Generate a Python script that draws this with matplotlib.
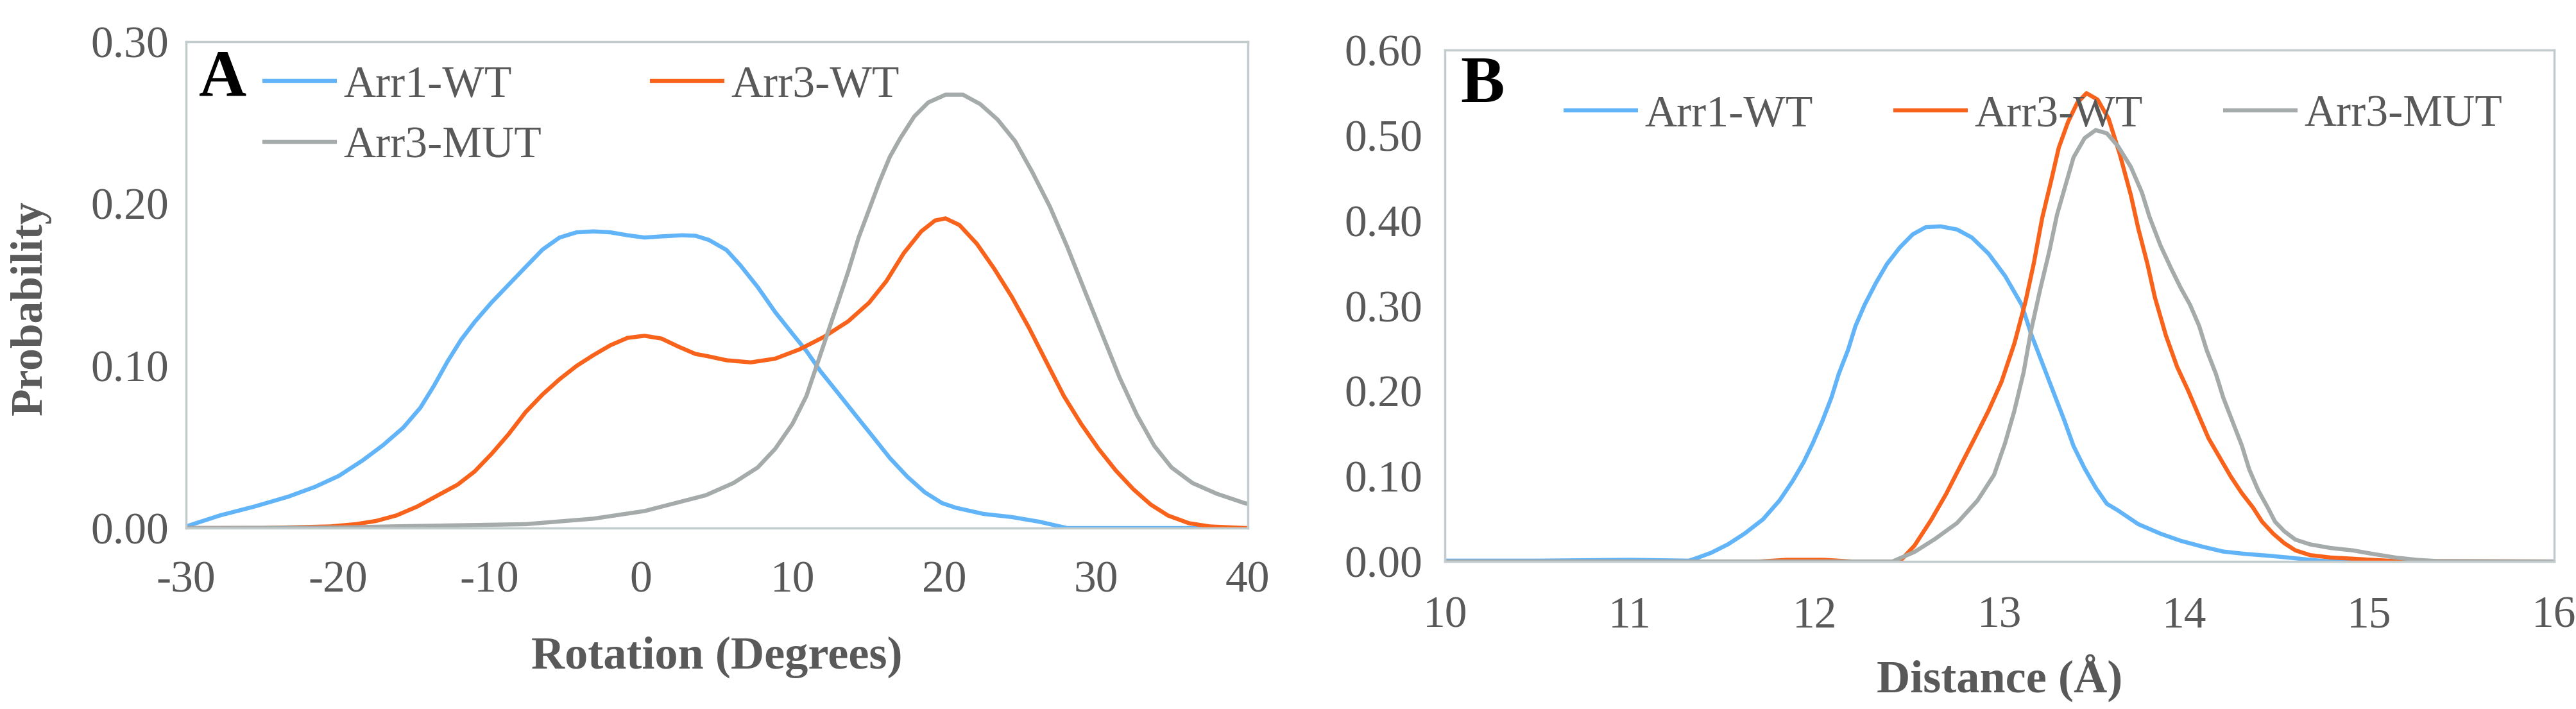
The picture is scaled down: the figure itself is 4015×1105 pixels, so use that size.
import matplotlib
matplotlib.use('Agg')
from matplotlib import pyplot as plt

#================================ data ================================
# Panel A : rotation (degrees) vs probability
rot_arr1 = [-30, -27.76, -25.52, -23.28, -21.5, -19.92, -18.36, -17.0, -15.67, -14.55, -13.65, -12.76,
            -11.86, -10.97, -9.85, -8.73, -7.61, -6.49, -5.37, -4.25, -3.13, -2.01, -0.89, 0.23, 1.35,
            2.69, 3.59, 4.48, 5.64, 6.56, 7.70, 8.85, 9.99, 10.91, 11.83, 12.98, 14.12, 15.27, 16.41,
            17.56, 18.71, 19.85, 20.77, 22.6, 24.44, 26.27, 28.1, 40]
prob_arr1 = [0.001, 0.0078, 0.0132, 0.0193, 0.0254, 0.0322, 0.0417, 0.0512, 0.062, 0.0742, 0.0878,
             0.1027, 0.1162, 0.1271, 0.1392, 0.1501, 0.161, 0.1718, 0.1792, 0.1824, 0.183, 0.1824,
             0.1806, 0.1792, 0.1799, 0.1806, 0.1803, 0.1777, 0.1715, 0.162, 0.1486, 0.1332, 0.1198,
             0.1092, 0.0968, 0.0834, 0.07, 0.0566, 0.0432, 0.0317, 0.0221, 0.0154, 0.0125, 0.0087,
             0.0068, 0.0039, 0.0, 0.0]

rot_arr3 = [-30, -25, -20.5, -18.8, -17.46, -16.12, -14.77, -13.43, -12.09, -10.97, -9.85, -8.73, -7.61,
            -6.49, -5.37, -4.25, -3.13, -2.01, -0.89, 0.23, 1.35, 2.47, 3.59, 4.4, 5.64, 7.24, 8.85,
            10.45, 12.06, 13.66, 15.04, 16.18, 17.33, 18.48, 19.39, 20.08, 21.0, 22.15, 23.29, 24.44,
            25.58, 26.73, 27.88, 29.02, 30.17, 31.31, 32.46, 33.61, 34.76, 36.13, 37.51, 39.8, 40]
prob_arr3 = [0.0, 0.0, 0.001, 0.0024, 0.0044, 0.0078, 0.0132, 0.02, 0.0268, 0.0349, 0.0458, 0.0579,
             0.0715, 0.0824, 0.0918, 0.1, 0.1067, 0.1128, 0.1173, 0.1186, 0.1169, 0.1119, 0.1074,
             0.106, 0.1035, 0.1022, 0.1045, 0.1102, 0.1179, 0.1275, 0.139, 0.1523, 0.1696, 0.183,
             0.1897, 0.191, 0.1869, 0.1753, 0.16, 0.1428, 0.1236, 0.1025, 0.0815, 0.0643, 0.0489,
             0.0355, 0.024, 0.0145, 0.0077, 0.003, 0.001, 0.0, 0.0]

rot_mut = [-30, -20, -16.57, -7.6, -3.13, 0.23, 2.47, 4.26, 6.1, 7.7, 8.85, 9.99, 10.91, 11.6, 12.29,
           12.98, 13.66, 14.35, 15.04, 15.73, 16.41, 17.1, 18.02, 18.94, 20.08, 21.23, 22.37, 23.52,
           24.67, 25.81, 26.96, 28.11, 29.25, 30.4, 31.55, 32.69, 33.84, 34.98, 36.36, 37.96, 39.8, 40]
prob_mut = [0.0, 0.0003, 0.001, 0.0024, 0.0058, 0.0105, 0.0159, 0.0202, 0.0278, 0.0374, 0.0489, 0.0643,
            0.0815, 0.1006, 0.1198, 0.139, 0.1581, 0.1792, 0.1964, 0.2137, 0.229, 0.2405, 0.2539,
            0.2625, 0.2673, 0.2673, 0.2615, 0.2519, 0.2386, 0.2194, 0.1983, 0.1734, 0.1466, 0.1198,
            0.093, 0.07, 0.0508, 0.0374, 0.0278, 0.0212, 0.0154, 0.015]

# Panel B : distance (angstrom) vs probability
dist_arr1 = [10, 10.5, 11.0, 11.32, 11.37, 11.44, 11.53, 11.62, 11.72, 11.81, 11.88, 11.94, 11.99,
             12.04, 12.09, 12.13, 12.18, 12.22, 12.27, 12.33, 12.39, 12.46, 12.53, 12.6, 12.68, 12.77,
             12.85, 12.94, 13.03, 13.12, 13.17, 13.23, 13.29, 13.35, 13.4, 13.46, 13.52, 13.58, 13.64,
             13.75, 13.87, 13.98, 14.1, 14.21, 14.33, 14.45, 14.56, 14.68, 14.79, 16]
dprob_arr1 = [0.001, 0.001, 0.002, 0.001, 0.0047, 0.0103, 0.0201, 0.0327, 0.0495, 0.0718, 0.0943,
              0.1166, 0.1391, 0.1642, 0.1922, 0.2203, 0.2482, 0.2762, 0.3014, 0.3266, 0.349, 0.3686,
              0.384, 0.3924, 0.3934, 0.3897, 0.3803, 0.3614, 0.3351, 0.3012, 0.2673, 0.2334, 0.1995,
              0.1657, 0.1355, 0.1092, 0.0866, 0.0678, 0.06, 0.0439, 0.0327, 0.0243, 0.0173, 0.0117,
              0.0089, 0.0069, 0.0047, 0.002, 0.0, 0.0]

dist_arr3 = [10, 11.7, 11.85, 12.05, 12.2, 12.46, 12.54, 12.63, 12.71, 12.79, 12.87, 12.94, 13.01,
             13.08, 13.14, 13.185, 13.23, 13.28, 13.32, 13.37, 13.42, 13.47, 13.53, 13.59, 13.65,
             13.71, 13.75, 13.80, 13.84, 13.9, 13.96, 14.02, 14.08, 14.13, 14.19, 14.25, 14.31, 14.37,
             14.42, 14.48, 14.54, 14.6, 14.68, 14.79, 14.91, 15.02, 15.14, 16]
dprob_arr3 = [0.0, 0.0, 0.002, 0.002, 0.0, 0.0, 0.0188, 0.0489, 0.079, 0.113, 0.1468, 0.177, 0.2108,
              0.256, 0.305, 0.35, 0.4029, 0.448, 0.4857, 0.5158, 0.5384, 0.5497, 0.5422, 0.5196,
              0.4782, 0.43, 0.391, 0.349, 0.31, 0.265, 0.2286, 0.2006, 0.1699, 0.1447, 0.1223, 0.0999,
              0.0803, 0.0635, 0.0467, 0.0327, 0.0215, 0.0131, 0.0075, 0.0047, 0.0033, 0.0019, 0.0005,
              0.0]

dist_mut = [10, 12.42, 12.54, 12.65, 12.77, 12.88, 12.97, 13.03, 13.08, 13.13, 13.17, 13.22, 13.27,
            13.31, 13.36, 13.4, 13.46, 13.52, 13.58, 13.64, 13.71, 13.77, 13.81, 13.87, 13.93, 13.98,
            14.03, 14.08, 14.12, 14.17, 14.21, 14.26, 14.31, 14.35, 14.4, 14.45, 14.49, 14.54, 14.6,
            14.68, 14.79, 14.91, 15.02, 15.14, 15.26, 15.37, 16]
dprob_mut = [0.0, 0.0, 0.0113, 0.0264, 0.0452, 0.0715, 0.1017, 0.1393, 0.177, 0.2221, 0.2711, 0.32,
             0.3652, 0.4066, 0.4443, 0.4744, 0.497, 0.5064, 0.5026, 0.4876, 0.4631, 0.433, 0.405,
             0.371, 0.343, 0.321, 0.3014, 0.2762, 0.2482, 0.2203, 0.1922, 0.1642, 0.1363, 0.1083,
             0.0831, 0.0635, 0.0467, 0.0355, 0.0257, 0.0201, 0.0159, 0.0131, 0.0089, 0.0047, 0.0019,
             0.0005, 0.0]

labels = ['Arr1-WT', 'Arr3-WT', 'Arr3-MUT']
x_ticks_a = [-30, -20, -10, 0, 10, 20, 30, 40]
y_ticks_a = [0.0, 0.1, 0.2, 0.3]
x_ticks_b = [10, 11, 12, 13, 14, 15, 16]
y_ticks_b = [0.0, 0.1, 0.2, 0.3, 0.4, 0.5, 0.6]

#================================ styling ================================
BLUE = '#62B4F8'
ORANGE = '#F8621A'
GRAY = '#A5ABAA'
SPINE = '#C3CCCC'
TXT = '#595959'
LW = 4.6

plt.rcParams['font.family'] = ['Liberation Serif', 'DejaVu Serif']
plt.rcParams['lines.solid_joinstyle'] = 'round'
plt.rcParams['lines.solid_capstyle'] = 'butt'

fig = plt.figure(figsize=(40.16, 11.05), dpi=100)
ax_a = fig.add_axes([0.0722, 0.2552, 0.412, 0.686])
ax_b = fig.add_axes([0.5608, 0.208, 0.4305, 0.721])


def style_axes(ax, xt, yt, xpad, ypad):
  for s in ax.spines.values():
    s.set_color(SPINE)
    s.set_linewidth(2.5)
  ax.set_xticks(xt)
  ax.set_yticks(yt)
  ax.set_xticklabels([str(v) for v in xt])
  ax.set_yticklabels(['%.2f' % v for v in yt])
  ax.tick_params(length=0, labelsize=50, labelcolor=TXT)
  ax.tick_params(axis='x', pad=xpad)
  ax.tick_params(axis='y', pad=ypad)


#------------------------------ Panel A ------------------------------
la1, = ax_a.plot(rot_arr1, prob_arr1, color=BLUE, lw=LW)
la3, = ax_a.plot(rot_arr3, prob_arr3, color=ORANGE, lw=LW)
lam, = ax_a.plot(rot_mut, prob_mut, color=GRAY, lw=LW)
ax_a.set_xlim(-30, 40)
ax_a.set_ylim(0, 0.30)
style_axes(ax_a, x_ticks_a, y_ticks_a, 37, 19.5)
ax_a.set_xlabel('Rotation (Degrees)', fontsize=52, fontweight='bold', color=TXT)
ax_a.xaxis.set_label_coords(0.5, -0.265)
ax_a.xaxis.label.set_va('center')
ax_a.set_ylabel('Probability', fontsize=50, fontweight='bold', color=TXT)
ax_a.yaxis.set_label_coords(-0.1465, 0.4525)
ax_a.yaxis.label.set_va('center')
ax_a.text(0.0344, 0.921, 'A', transform=ax_a.transAxes, fontsize=74, fontweight='bold',
          ha='center', va='center', color='black')
ax_a.legend([la1, lam, la3], [labels[0], labels[2], labels[1]], ncol=2, loc='upper left',
            bbox_to_anchor=(0.0719, 0.951), frameon=False, fontsize=50, borderpad=0,
            borderaxespad=0, handlelength=1.67, handletextpad=0.15, columnspacing=2.43,
            labelspacing=0.45, labelcolor=TXT)

#------------------------------ Panel B ------------------------------
lb1, = ax_b.plot(dist_arr1, dprob_arr1, color=BLUE, lw=LW)
lb3, = ax_b.plot(dist_arr3, dprob_arr3, color=ORANGE, lw=LW)
lbm, = ax_b.plot(dist_mut, dprob_mut, color=GRAY, lw=LW)
ax_b.set_xlim(10, 16)
ax_b.set_ylim(0, 0.60)
style_axes(ax_b, x_ticks_b, y_ticks_b, 39, 25)
ax_b.set_xlabel('Distance (Å)', fontsize=52, fontweight='bold', color=TXT)
ax_b.xaxis.set_label_coords(0.5, -0.228)
ax_b.xaxis.label.set_va('center')
ax_b.text(0.0335, 0.93, 'B', transform=ax_b.transAxes, fontsize=74, fontweight='bold',
          ha='center', va='center', color='black')
ax_b.legend([lb1, lb3, lbm], labels, ncol=3, loc='upper left',
            bbox_to_anchor=(0.107, 0.9125), frameon=False, fontsize=50, borderpad=0,
            borderaxespad=0, handlelength=1.67, handletextpad=0.15, columnspacing=1.8,
            labelcolor=TXT)

plt.savefig('out.png', dpi=100)
